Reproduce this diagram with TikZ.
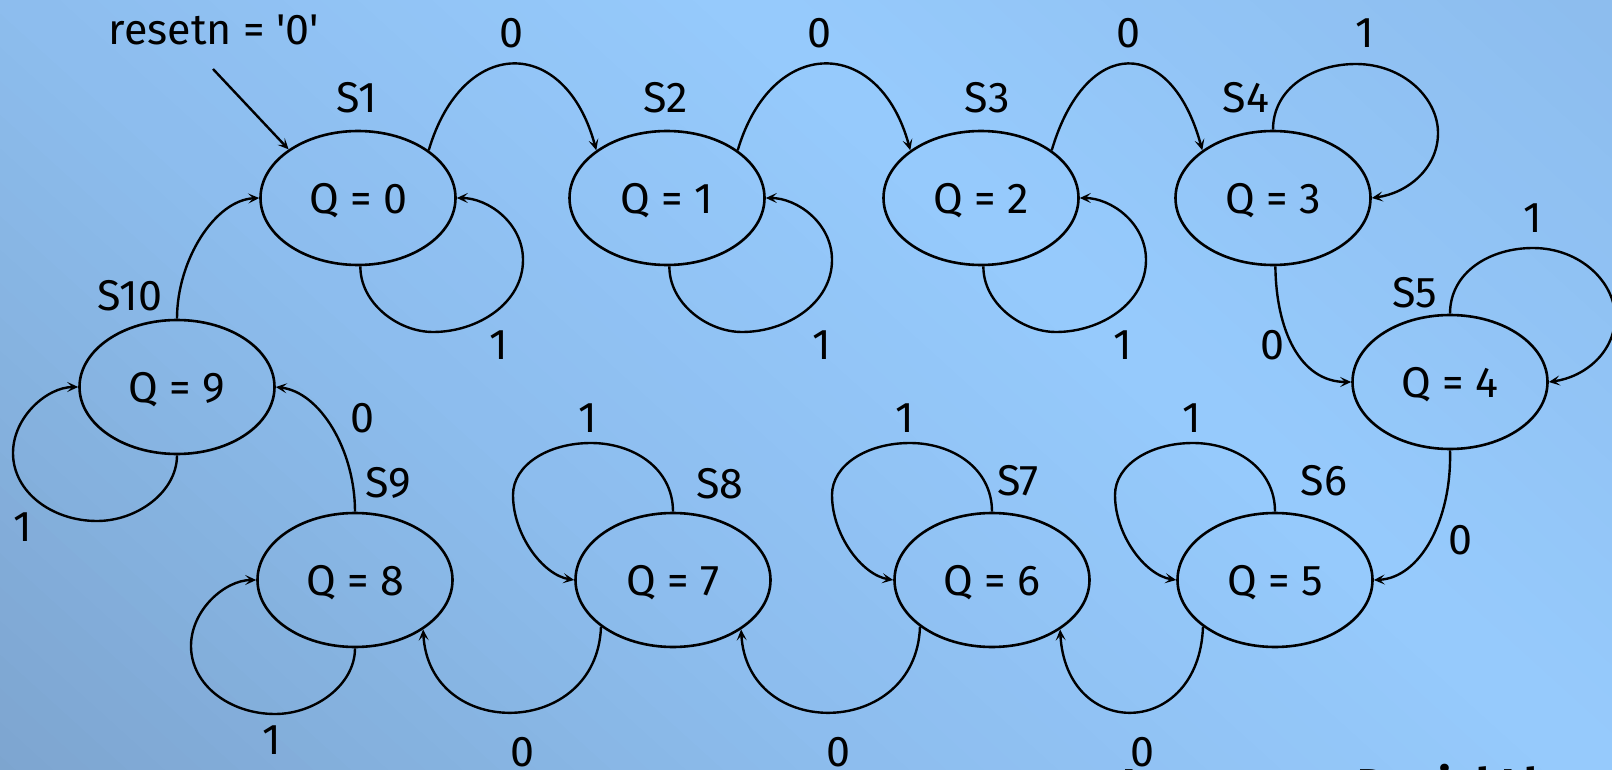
\documentclass[tikz,border=0pt]{standalone}
\usepackage{fontspec}
\setmainfont{Fira Sans}
\usetikzlibrary{arrows.meta,shapes.geometric,calc}
\begin{document}
\begin{tikzpicture}[x=1pt,y=-1pt,
  state/.style={draw=black, line width=2.6pt, ellipse, minimum width=195pt, minimum height=134pt,
    inner sep=0pt, text depth=0pt, font=\fontsize{43}{50}\selectfont},
  lbl/.style={font=\fontsize{43}{50}\selectfont, inner sep=0pt, text depth=0pt},
  tr/.style={draw=black, line width=2.4pt, -{Stealth[length=11pt,width=10pt,inset=5pt]}},
]
\useasboundingbox (0,0) rectangle (1612,770);
% background gradient
\begin{scope}
\clip (0,0) rectangle (1612,770);
\foreach \i in {0,...,67} {
  \pgfmathsetmacro{\sa}{-585+25*\i}
  \pgfmathsetmacro{\sb}{\sa+26}
  \pgfmathsetmacro{\sc}{\sa+12.5}
  \pgfmathsetmacro{\ta}{(\sc+571)/571}
  \pgfmathsetmacro{\tb}{\sc/504}
  \pgfmathsetmacro{\tc}{(\sc-504)/579}
  \pgfmathtruncatemacro{\cr}{\sc<0 ? 126+15*\ta : (\sc<504 ? 141+10*\tb : 151-10*\tc)}
  \pgfmathtruncatemacro{\cg}{\sc<0 ? 166+23*\ta : (\sc<504 ? 189+14*\tb : 203-14*\tc)}
  \pgfmathtruncatemacro{\cb}{\sc<0 ? 208+30*\ta : (\sc<504 ? 238+15*\tb : 253-15*\tc)}
  \definecolor{bgc}{RGB}{\cr,\cg,\cb}
  \fill[bgc] ({0.6714*\sa-148},{-0.7411*\sa-134}) -- ({0.6714*\sb-148},{-0.7411*\sb-134})
     -- ({0.6714*\sb+1408},{-0.7411*\sb+1276}) -- ({0.6714*\sa+1408},{-0.7411*\sa+1276}) -- cycle;
}
\end{scope}

% states
\node[state] (S1) at (358,198) {Q = 0};
\node[state] (S2) at (667,198) {Q = 1};
\node[state] (S3) at (981,198) {Q = 2};
\node[state] (S4) at (1273,198) {Q = 3};
\node[state] (S5) at (1450,382) {Q = 4};
\node[state] (S6) at (1275,580) {Q = 5};
\node[state] (S7) at (992,580) {Q = 6};
\node[state] (S8) at (673,580) {Q = 7};
\node[state] (S9) at (355,580) {Q = 8};
\node[state] (S10) at (177,387) {Q = 9};

% state names
\node[lbl] (n1) at (357,97) {S1};
\node[lbl] (n2) at (666,97) {S2};
\node[lbl] (n3) at (987,97) {S3};
\node[lbl] (n4) at (1246,97) {S4};
\node[lbl] (n5) at (1415,292) {S5};
\node[lbl] (n6) at (1324,480) {S6};
\node[lbl] (n7) at (1018,480) {S7};
\node[lbl] (n8) at (720,483) {S8};
\node[lbl] (n9) at (388,482) {S9};
\node[lbl] (n10) at (130,295) {S10};

% reset
\node[lbl] (rst) at (214,30) {resetn = \textquotesingle 0\textquotesingle};
\coordinate (r0) at (213,69);
\draw[tr] (r0) -- (S1.145);

% top row transitions
\draw[tr] (S1.34) .. controls ($(S1.34)+(34,-115)$) and ($(S2.146)+(-31,-115)$) .. (S2.146);
\draw[tr] (S2.34) .. controls ($(S2.34)+(34,-115)$) and ($(S3.146)+(-31,-115)$) .. (S3.146);
\draw[tr] (S3.34) .. controls ($(S3.34)+(34,-115)$) and ($(S4.146)+(-31,-115)$) .. (S4.146);
\node[lbl] (e12) at (511,33) {0};
\node[lbl] (e23) at (819,33) {0};
\node[lbl] (e34) at (1128,33) {0};

% bottom-right loops S1..S3
\foreach \s in {S1,S2,S3} {
  \draw[tr, shift={(\s)}] (\s.-88) .. controls (2,105) and (40,134) .. (75,134)
     .. controls (120,134) and (165,105) .. (165,62)
     .. controls (165,25) and (130,0) .. (\s.0);
}
\node[lbl] (l1) at (499,345) {1};
\node[lbl] (l2) at (822,345) {1};
\node[lbl] (l3) at (1123,345) {1};

% top-right loops S4, S5
\foreach \s in {S4,S5} {
  \draw[tr, shift={(\s)}] (\s.north) .. controls (0,-110) and (40,-134) .. (83,-134)
     .. controls (130,-134) and (165,-100) .. (165,-65)
     .. controls (165,-30) and (135,-5) .. (\s.east);
}
\node[lbl] (l4) at (1365,33) {1};
\node[lbl] (l5) at (1533,218) {1};

% S4 -> S5 -> S6
\draw[tr] (S4.-88) .. controls (1276,330) and (1300,382) .. (S5.west);
\node[lbl] (e45) at (1272,345) {0};
\draw[tr] (S5.-90) .. controls (1452,520) and (1420,578) .. (S6.east);
\node[lbl] (e56) at (1460,540) {0};

% top-left loops S6..S8
\foreach \s in {S6,S7,S8} {
  \draw[tr, shift={(\s)}] (\s.north) .. controls (0,-112) and (-40,-137) .. (-82,-137)
     .. controls (-125,-137) and (-160,-115) .. (-160,-85)
     .. controls (-160,-45) and (-130,-5) .. (\s.west);
}
\node[lbl] (l6) at (1192,418) {1};
\node[lbl] (l7) at (905,418) {1};
\node[lbl] (l8) at (588,418) {1};

% bottom row transitions
\draw[tr] (S6.213) .. controls ($(S6.213)+(-4,112)$) and ($(S7.-36)+(6,112)$) .. (S7.-36);
\draw[tr] (S7.213) .. controls ($(S7.213)+(-4,112)$) and ($(S8.-36)+(6,112)$) .. (S8.-36);
\draw[tr] (S8.213) .. controls ($(S8.213)+(-4,112)$) and ($(S9.-36)+(6,112)$) .. (S9.-36);
\node[lbl] (e67) at (1142,752) {0};
\node[lbl] (e78) at (838,752) {0};
\node[lbl] (e89) at (522,752) {0};

% bottom-left loops S9, S10
\foreach \s in {S9,S10} {
  \draw[tr, shift={(\s)}] (\s.south) .. controls (0,105) and (-40,134) .. (-80,134)
     .. controls (-125,134) and (-164,105) .. (-164,66)
     .. controls (-164,30) and (-130,0) .. (\s.west);
}
\node[lbl] (l9) at (272,740) {1};
\node[lbl] (l10) at (23,527) {1};

% S9 -> S10 -> S1
\draw[tr] (S9.north) .. controls (355,450) and (320,392) .. (S10.east);
\node[lbl] (e910) at (362,418) {0};
\draw[tr] (S10.north) .. controls (177,260) and (215,200) .. (S1.west);

% footer (cut by the page edge)
\node[lbl, font=\fontsize{46}{52}\selectfont\bfseries, anchor=base west] (instr) at (1122,801) {Instructor: Daniel Llamocca};
\end{tikzpicture}
\end{document}
